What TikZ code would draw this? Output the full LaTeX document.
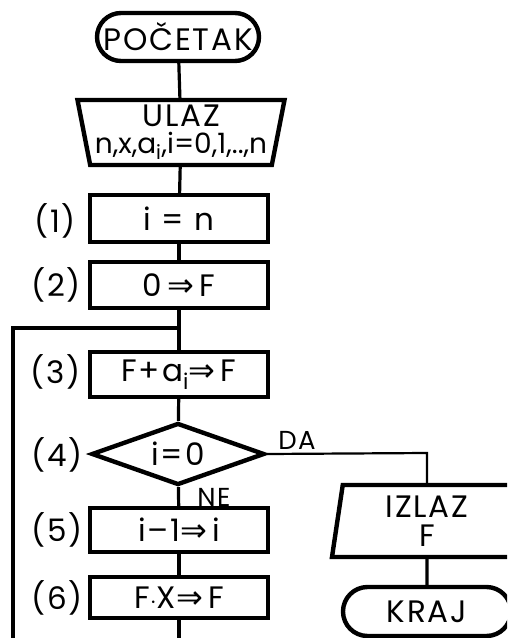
\documentclass[tikz,border=0pt]{standalone}
\usepackage{fontspec}
\setmainfont{Poppins}[LetterSpace=6]
\newfontfamily\tightfont{Poppins}
\newfontfamily\arrowfont{DejaVu Sans}
\newcommand\dimp{{\arrowfont\fontsize{32}{32}\selectfont ⇒}}
\usetikzlibrary{shapes.geometric,shapes.misc}
\begin{document}
\begin{tikzpicture}[x=1pt,y=-1pt,
  every node/.style={font=\fontsize{31}{33}\selectfont},
  box/.style={draw,line width=4.4pt,minimum width=178pt,inner sep=0pt},
  term/.style={draw,line width=4.4pt,rounded rectangle,inner sep=0pt},
  io/.style={draw,line width=4.4pt,trapezium,trapezium stretches body,inner sep=0pt,align=center},
  link/.style={line width=3.2pt},
  thinlink/.style={line width=2.2pt},
  lbl/.style={inner sep=0pt}]
\useasboundingbox (0,0) rectangle (507,638);
\clip (0,0) rectangle (507,638);
\node[term,minimum width=162pt,minimum height=48pt] (start) at (178,37) {POČETAK};
\node[io,shape border rotate=180,trapezium left angle=77,trapezium right angle=77,minimum width=207pt,minimum height=65pt] (in) at (181,132.5) {ULAZ\\[-6pt] {\tightfont\fontsize{28}{28}\selectfont n,x,a\textsubscript{i},i=0,1,..,n}};
\node[box,minimum height=47pt] (b1) at (179,218.5) {i = n};
\node[box,minimum height=46pt] (b2) at (179,285) {0\,\dimp\,F};
\node[box,minimum height=45pt] (b3) at (179,374.5) {F+a\textsubscript{i}\dimp\,F};
\node[draw,line width=4.4pt,diamond,aspect=2.8,minimum width=173pt,minimum height=62pt,inner sep=0pt] (dec) at (178,454) {i=0};
\node[box,minimum height=44pt] (b5) at (179,530) {i--1\dimp\,i};
\node[box,minimum height=41pt] (b6) at (179,597.5) {F$\cdot$X\dimp\,F};
\node[io,trapezium left angle=78,trapezium right angle=78,minimum width=190pt,minimum height=72pt] (out) at (427,521) {IZLAZ\\[-4pt] F};
\node[term,minimum width=168pt,minimum height=49pt] (stop) at (427,611.5) {KRAJ};
\node[lbl] (l1) at (55,221) {(1)};
\node[lbl] (l2) at (56,285) {(2)};
\node[lbl] (l3) at (56,372) {(3)};
\node[lbl] (l4) at (57,455) {(4)};
\node[lbl] (l5) at (57,530) {(5)};
\node[lbl] (l6) at (57,598) {(6)};
\node[lbl,font=\fontsize{26}{28}\selectfont] (da) at (297,440) {DA};
\node[lbl,font=\fontsize{26}{28}\selectfont] (ne) at (214,497) {NE};
\coordinate (j) at (179,328);
\coordinate (jl) at (13,328);
\coordinate (bl) at (13,660);
\coordinate (bc) at (179,660);
\coordinate (dr) at (427,453);
\draw[link] (start) -- (in);
\draw[link] (in) -- (b1);
\draw[link] (b1) -- (b2);
\draw[link] (b2) -- (b3);
\draw[link] (j) -- (jl) -- (bl);
\draw[link] (b3) -- (dec);
\draw[link] (dec) -- (b5);
\draw[link] (b5) -- (b6);
\draw[link] (b6) -- (bc);
\draw[thinlink] (dec.east) -- (dr) -- (out);
\draw[link] (out) -- (stop);
\end{tikzpicture}
\end{document}
